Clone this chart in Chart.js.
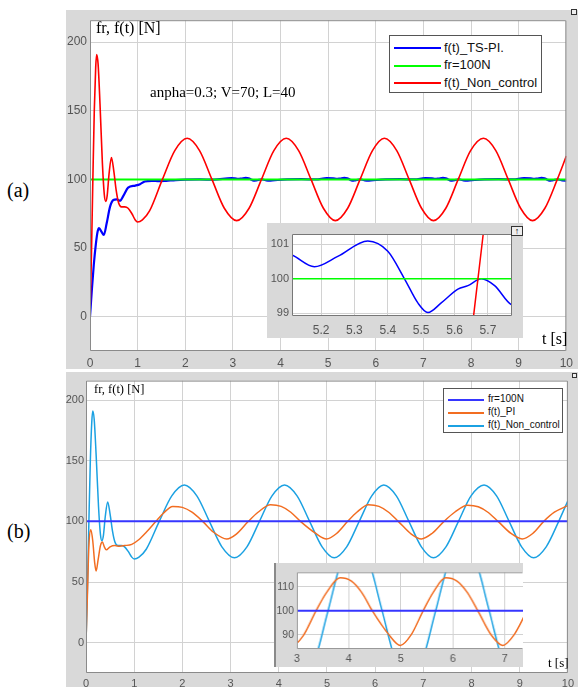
<!DOCTYPE html>
<html>
<head>
<meta charset="utf-8">
<script src="https://cdn.jsdelivr.net/npm/chart.js@4.4.0/dist/chart.umd.min.js"></script>
<style>
  body { margin:0; width:578px; height:687px; background:#fff; position:relative; overflow:hidden; font-family:"Liberation Sans", Arial, sans-serif; }
  canvas { position:absolute; background:#d9d9d9; }
  .txt { position:absolute; white-space:nowrap; line-height:1; color:#000; font-family:"Liberation Serif","Times New Roman",serif; }
  .legend { position:absolute; background:#fff; border:1px solid #555; box-sizing:border-box; z-index:3; }
  .legend .smp { position:absolute; }
  .legend .lbl { position:absolute; line-height:1; white-space:nowrap; color:#111; }
  .icon { position:absolute; border:1px solid #333; background:#eee; box-sizing:border-box; z-index:4; font-size:9px; line-height:8px; text-align:center; font-weight:bold; }
</style>
</head>
<body>

<canvas id="mainA" width="512" height="359" style="left:66px;top:10px"></canvas>
<canvas id="insetA" width="256" height="115" style="left:267px;top:223px;z-index:2"></canvas>
<canvas id="mainB" width="512" height="315" style="left:66px;top:372px"></canvas>
<canvas id="insetB" width="249" height="104" style="left:276px;top:563px;z-index:2;border-left:2px solid #8a8a8a;margin-left:-2px"></canvas>

<div class="txt" style="left:7px;top:180px;font-size:20px">(a)</div>
<div class="txt" style="left:7px;top:521px;font-size:20px">(b)</div>

<div class="txt" style="left:96px;top:20px;font-size:16px;z-index:3">fr, f(t) [N]</div>
<div class="txt" style="left:150px;top:85px;font-size:15px;z-index:3">anpha=0.3; V=70; L=40</div>
<div class="txt" style="left:542px;top:331px;font-size:16px;z-index:3">t [s]</div>
<div class="txt" style="left:94px;top:383px;font-size:12.5px;z-index:3">fr, f(t) [N]</div>
<div class="txt" style="left:548px;top:656px;font-size:13px;z-index:3">t [s]</div>

<div class="icon" style="left:571px;top:9px;width:6px;height:6px"></div>
<div class="icon" style="left:572px;top:373px;width:5px;height:5px"></div>
<div class="icon" style="left:511px;top:226px;width:12px;height:10px">↑</div>

<script>
// time axis ticks
const xTicksMain = [0, 1, 2, 3, 4, 5, 6, 7, 8, 9, 10];
const yTicksMain = [0, 50, 100, 150, 200];
const xTicksInsetA = [5.2, 5.3, 5.4, 5.5, 5.6, 5.7];
const yTicksInsetA = [99, 100, 101];
const xTicksInsetB = [3, 4, 5, 6, 7];
const yTicksInsetB = [90, 100, 110];

// reference force
const refT = [0, 10];
const refF = [100, 100];

// f(t) without control (same in both panels)
const nonCtrlT = [0, 0.03, 0.06, 0.09, 0.12, 0.14, 0.17, 0.21, 0.26, 0.3, 0.33, 0.36, 0.4, 0.45, 0.5, 0.55, 0.6, 0.66, 0.73, 0.8, 0.88, 0.95, 1.0, 1.1, 1.25, 1.52, 1.78, 2.04, 2.30, 2.56, 2.82, 3.08, 3.34, 3.60, 3.86, 4.12, 4.38, 4.64, 4.90, 5.15, 5.41, 5.67, 5.93, 6.18, 6.44, 6.70, 6.96, 7.21, 7.47, 7.73, 7.99, 8.26, 8.52, 8.78, 9.04, 9.29, 9.55, 9.81, 10.0];
const nonCtrlF = [0, 45, 100, 150, 182, 191, 184, 155, 112, 89, 84, 88, 104, 116, 106, 92, 83, 80, 80, 79, 75, 70.5, 69, 70.5, 77, 100, 121, 130, 121, 100, 79, 70, 79, 100, 121, 130, 121, 100, 79, 70, 79, 100, 121, 130, 121, 100, 79, 70, 79, 100, 121, 130, 121, 100, 79, 70, 79, 100, 117];

// f(t) with TS-PI (panel a)
const tsPiT = [0, 0.04, 0.08, 0.12, 0.16, 0.19, 0.24, 0.29, 0.35, 0.42, 0.49, 0.56, 0.63, 0.7, 0.8, 0.95, 1.05, 1.15, 1.3, 1.45, 1.6, 1.8, 2.0, 2.3, 2.6, 2.97,
  3.04, 3.11, 3.18, 3.27, 3.33, 3.38, 3.42, 3.45, 3.49, 3.54, 3.57, 3.61, 3.65, 3.70, 3.79, 3.94, 4.14, 4.44, 4.74, 4.97,
  5.11, 5.18, 5.25, 5.34, 5.40, 5.45, 5.49, 5.52, 5.56, 5.61, 5.64, 5.68, 5.72, 5.77, 5.86, 6.01, 6.21, 6.51, 6.81, 7.04,
  7.18, 7.25, 7.32, 7.41, 7.47, 7.52, 7.56, 7.59, 7.63, 7.68, 7.71, 7.75, 7.79, 7.84, 7.93, 8.08, 8.28, 8.58, 8.88, 9.11,
  9.25, 9.32, 9.39, 9.48, 9.54, 9.59, 9.63, 9.66, 9.70, 9.75, 9.78, 9.82, 9.86, 9.91, 10.0];
const tsPiF = [0, 20, 38, 52, 62, 64.5, 62, 59.5, 68, 80, 85, 85.5, 84.5, 88, 94, 95.5, 96.5, 98.5, 99, 98.7, 99, 99.5, 99.8, 100, 99.8, 100.9,
  100.7, 100.35, 100.65, 101.1, 100.8, 100, 99.3, 99.02, 99.3, 99.7, 99.8, 100, 99.8, 99.25, 99.1, 99.6, 100, 100.2, 100, 100.9,
  100.7, 100.35, 100.65, 101.1, 100.8, 100, 99.3, 99.02, 99.3, 99.7, 99.8, 100, 99.8, 99.25, 99.1, 99.6, 100, 100.2, 100, 100.9,
  100.7, 100.35, 100.65, 101.1, 100.8, 100, 99.3, 99.02, 99.3, 99.7, 99.8, 100, 99.8, 99.25, 99.1, 99.6, 100, 100.2, 100, 100.9,
  100.7, 100.35, 100.65, 101.1, 100.8, 100, 99.3, 99.02, 99.3, 99.7, 99.8, 100, 99.8, 99.25, 99.1];

// f(t) with PI (panel b)
const piT = [0, 0.03, 0.06, 0.1, 0.14, 0.18, 0.21, 0.25, 0.3, 0.34, 0.38, 0.42, 0.5, 0.6, 0.7, 0.8, 0.95, 1.1, 1.25, 1.45, 1.6, 1.8, 2.0, 2.2, 2.42, 2.65, 2.92, 3.12, 3.37, 3.57, 3.83, 4.05, 4.25, 4.45, 4.77, 4.99, 5.2, 5.43, 5.62, 5.86, 6.08, 6.28, 6.48, 6.75, 6.96, 7.18, 7.43, 7.65, 7.92, 8.14, 8.34, 8.55, 8.82, 9.05, 9.27, 9.5, 9.72, 10.0];
const piF = [0, 40, 80, 93, 84, 66, 59, 68, 80, 83, 79, 76.5, 79, 80, 79.5, 80, 81, 85, 91, 100, 106.5, 112.3, 111.5, 107.5, 100, 91, 85.5, 89.5, 100, 107.5, 113.7, 112.3, 107.5, 100, 90, 85.5, 90, 100, 107.5, 113.7, 112.3, 107.5, 100, 89.5, 85.5, 90, 100, 107.5, 113.3, 112, 107.5, 100, 90, 85.5, 90, 100, 107.5, 113];

const pts = (ts, vs) => ts.map((t, i) => ({ x: t, y: vs[i] }));

// white plot area + box around it
const frame = {
  id: 'frame',
  beforeDraw(c) {
    const a = c.chartArea, g = c.ctx;
    g.save(); g.fillStyle = '#fff'; g.fillRect(a.left, a.top, a.width, a.height); g.restore();
  },
  afterDraw(c, args, o) {
    const a = c.chartArea, g = c.ctx;
    g.save();
    g.strokeStyle = o.color || '#888'; g.lineWidth = 1;
    g.beginPath();
    g.moveTo(a.left + 0.5, a.top + 0.5); g.lineTo(a.left + 0.5, a.bottom - 0.5); g.lineTo(a.right - 0.5, a.bottom - 0.5);
    if (o.right !== false) g.lineTo(a.right - 0.5, a.top + 0.5);
    g.moveTo(a.left + 0.5, a.top + 0.5); g.lineTo(a.right - 0.5, a.top + 0.5);
    g.stroke();
    g.restore();
  }
};

function axis(min, max, ticks, font, pad, size, isX) {
  return {
    type: 'linear', min: min, max: max,
    afterBuildTicks: s => { s.ticks = ticks.map(v => ({ value: v })); },
    afterFit: s => { if (isX) s.height = size; else s.width = size; },
    ticks: { font: { size: font, family: 'Liberation Sans' }, color: '#555', padding: pad, maxRotation: 0, autoSkip: false, callback: v => String(v) },
    grid: { color: '#d2d2d2', drawTicks: false },
    border: { display: false }
  };
}

function makeChart(id, datasets, o) {
  return new Chart(document.getElementById(id), {
    type: 'line',
    data: { datasets: datasets },
    options: {
      responsive: false, animation: false, events: [],
      layout: { padding: o.pad },
      elements: { point: { radius: 0 }, line: { cubicInterpolationMode: 'monotone' } },
      plugins: { legend: { display: false }, tooltip: { enabled: false }, frame: { color: o.frame, right: o.right } },
      scales: { x: o.x, y: o.y }
    },
    plugins: [frame]
  });
}

function addLegend(chart, b) {
  const el = document.createElement('div');
  el.className = 'legend';
  Object.assign(el.style, { left: b.left + 'px', top: b.top + 'px', width: b.w + 'px', height: b.h + 'px', fontSize: b.font + 'px' });
  chart.data.datasets.forEach((ds, i) => {
    const cy = b.row0 + i * b.step;
    const h = Math.max(1, Math.round(ds.borderWidth));
    const s = document.createElement('div');
    s.className = 'smp';
    Object.assign(s.style, { left: b.lineX + 'px', width: b.lineW + 'px', top: Math.round(cy - h / 2) + 'px', height: h + 'px', background: ds.borderColor });
    const t = document.createElement('div');
    t.className = 'lbl';
    t.textContent = ds.label;
    Object.assign(t.style, { left: b.textX + 'px', top: (cy - b.font * 0.55) + 'px' });
    el.appendChild(s); el.appendChild(t);
  });
  document.body.appendChild(el);
}

// panel (a)
const dsA = () => [
  { label: 'f(t)_TS-PI.', data: pts(tsPiT, tsPiF), borderColor: '#0000ff', borderWidth: 2.2, order: 2 },
  { label: 'fr=100N', data: pts(refT, refF), borderColor: '#00ff00', borderWidth: 2, order: 1 },
  { label: 'f(t)_Non_control', data: pts(nonCtrlT, nonCtrlF), borderColor: '#ff0000', borderWidth: 1.6, order: 0 }
];
const chartA = makeChart('mainA', dsA(), {
  pad: { top: 5, right: 8, left: 0, bottom: 0 }, frame: '#8a8a8a',
  x: axis(0, 10, xTicksMain, 12, 5, 18, true),
  y: axis(-25, 216, yTicksMain, 12, 3, 24, false)
});
addLegend(chartA, { left: 389, top: 35, w: 153, h: 58, font: 13, row0: 12, step: 17.5, lineX: 4, lineW: 47, textX: 54 });

const insA = dsA();
insA.forEach(d => { d.borderWidth = 1.5; });
makeChart('insetA', insA, {
  pad: { top: 11, right: 11, left: 0, bottom: 0 }, frame: '#777',
  x: axis(5.113, 5.772, xTicksInsetA, 12, 7, 22, true),
  y: axis(98.92, 101.3, yTicksInsetA, 11, 3, 25, false)
});

// panel (b)
const dsB = () => [
  { label: 'fr=100N', data: pts(refT, refF), borderColor: '#3636ff', borderWidth: 2 },
  { label: 'f(t)_PI', data: pts(piT, piF), borderColor: '#f26d21', borderWidth: 1.5 },
  { label: 'f(t)_Non_control', data: pts(nonCtrlT, nonCtrlF), borderColor: '#1ba1e2', borderWidth: 1.5 }
];
const chartB = makeChart('mainB', dsB(), {
  pad: { top: 6, right: 7, left: 0, bottom: 0 }, frame: '#8a8a8a',
  x: axis(0, 10, xTicksMain, 11, 4, 14, true),
  y: axis(-25, 216, yTicksMain, 11, 2, 20, false)
});
addLegend(chartB, { left: 443, top: 388, w: 120, h: 45, font: 10, row0: 10.5, step: 13, lineX: 4, lineW: 36, textX: 44 });

makeChart('insetB', dsB(), {
  pad: { top: 6, right: 0, left: 0, bottom: 0 }, frame: '#999', right: false,
  x: axis(3, 7.35, xTicksInsetB, 11, 3, 18, true),
  y: axis(84, 116, yTicksInsetB, 10.5, 3, 21, false)
});
</script>
</body>
</html>
